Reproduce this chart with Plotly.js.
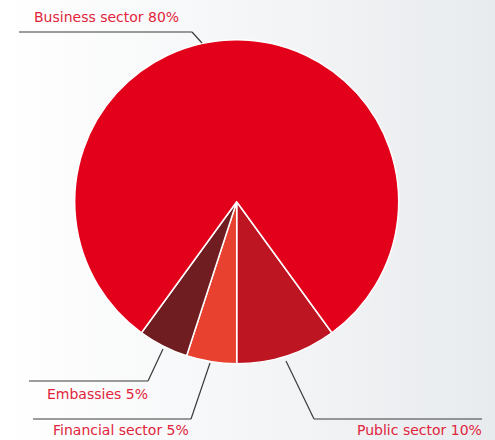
<!DOCTYPE html>
<html><head><meta charset="utf-8">
<script src="https://cdn.plot.ly/plotly-3.0.1.min.js"></script>
<style>
html,body{margin:0;padding:0;width:495px;height:440px;overflow:hidden;}
body{background:linear-gradient(to right,#ffffff 0%,#f7f8f9 40%,#e8ebee 100%);}
#chart{width:495px;height:440px;}
</style></head><body><div id="chart"></div>
<script>
const categories = ["Public sector", "Financial sector", "Embassies", "Business sector"];
const shares = [10, 5, 5, 80];
const colors = ["#be1522", "#e84130", "#6f1d20", "#e2001a"];
const labelText = categories.map((c, i) => c + " " + shares[i] + "%");

const W = 495, H = 440;
const px = x => x / W, py = y => 1 - y / H;
// label placement (pixel layout) and leader-line paths
const labelPos = [
  {x: 419, y: 430, line: [[286,361],[314,419],[482,419]]},
  {x: 121, y: 430, line: [[210,363],[191,419],[33,419]]},
  {x: 97, y: 394, line: [[163,349],[148,381],[29,381]]},
  {x: 106, y: 17, line: [[202,43],[192,32],[19,32]]}
];

const shapes = [];
labelPos.forEach(l => {
  for (let k = 0; k < l.line.length - 1; k++) {
    shapes.push({type: "line", xref: "paper", yref: "paper",
      x0: px(l.line[k][0]), y0: py(l.line[k][1]),
      x1: px(l.line[k+1][0]), y1: py(l.line[k+1][1]),
      line: {color: "#3a3a3a", width: 1.2}});
  }
});
const annotations = labelPos.map((l, i) => ({
  xref: "paper", yref: "paper", x: px(l.x), y: py(l.y),
  xanchor: "center", yanchor: "middle", showarrow: false,
  text: labelText[i], font: {family: "DejaVu Sans", size: 14, color: "#e1233b"}
}));

const cx = 236.7, cy = 201.7, R = 162;
Plotly.newPlot("chart", [{
  type: "pie", values: shares, labels: categories, sort: false,
  direction: "clockwise", rotation: 144,
  marker: {colors: colors, line: {color: "#ffffff", width: 1.5}},
  textinfo: "none", hoverinfo: "label+percent",
  domain: {x: [(cx - R) / W, (cx + R) / W], y: [1 - (cy + R) / H, 1 - (cy - R) / H]}
}], {
  width: W, height: H, margin: {l: 0, r: 0, t: 0, b: 0},
  paper_bgcolor: "rgba(0,0,0,0)", plot_bgcolor: "rgba(0,0,0,0)",
  showlegend: false, shapes: shapes, annotations: annotations
}, {displayModeBar: false, staticPlot: true});
</script></body></html>
